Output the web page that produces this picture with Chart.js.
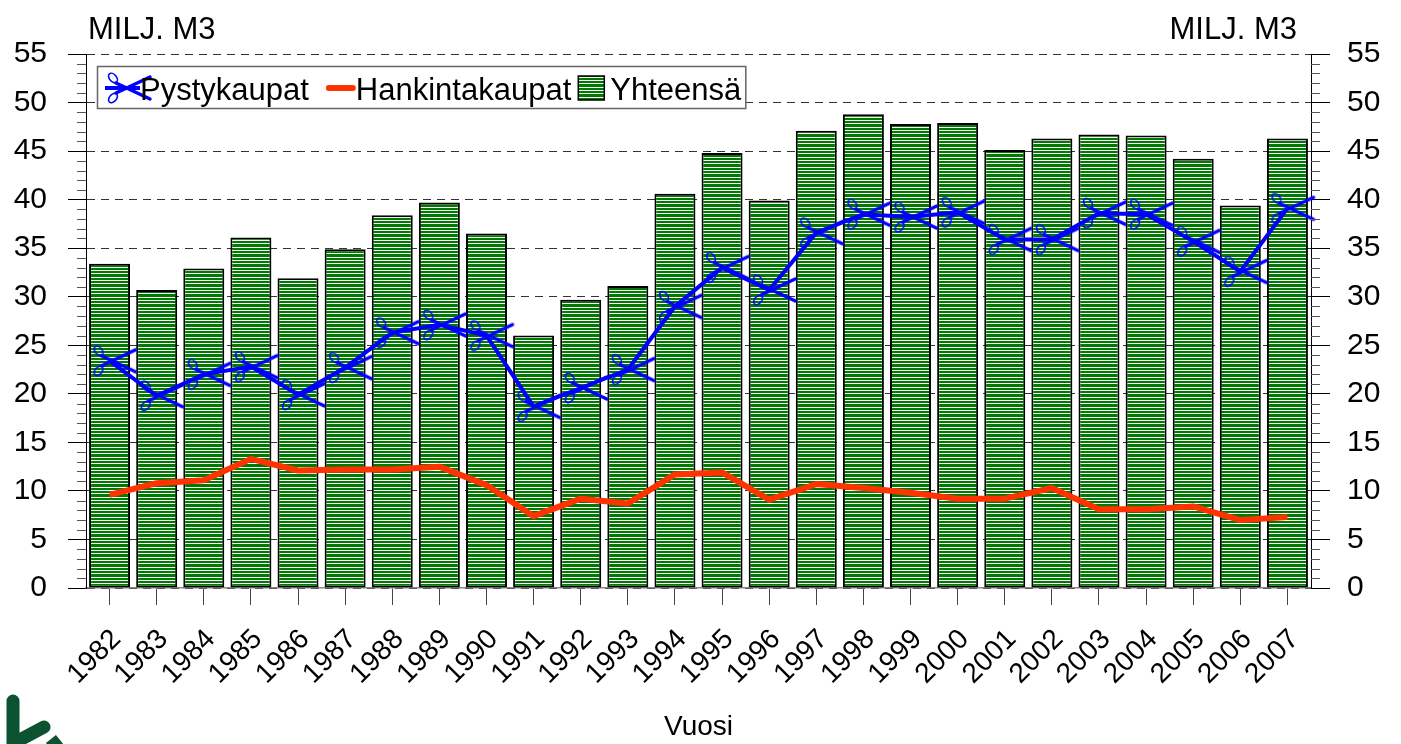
<!DOCTYPE html>
<html>
<head>
<meta charset="utf-8">
<title>Pystykaupat ja hankintakaupat</title>
<script src="https://cdn.jsdelivr.net/npm/chart.js@4.4.0/dist/chart.umd.min.js"></script>
<style>
  html, body { margin: 0; padding: 0; background: #fff; }
  #wrap { width: 1401px; height: 744px; }
</style>
</head>
<body>
<div id="wrap"><canvas id="chart" width="1401" height="744"></canvas></div>
<script>
/* =========================================================
   DATA (milj. m3)
========================================================= */
const years = ["1982","1983","1984","1985","1986","1987","1988","1989","1990","1991","1992","1993","1994",
               "1995","1996","1997","1998","1999","2000","2001","2002","2003","2004","2005","2006","2007"];

const pystykaupat = [23.4, 19.8, 22.0, 22.8, 19.9, 22.7, 26.3, 27.1, 26.0, 18.7, 20.6, 22.5, 29.0,
                     33.0, 30.7, 36.6, 38.5, 38.2, 38.7, 35.9, 35.9, 38.6, 38.5, 35.7, 32.6, 39.1];

const hankintakaupat = [9.6, 10.8, 11.1, 13.3, 12.1, 12.2, 12.2, 12.5, 10.6, 7.4, 9.2, 8.7, 11.7,
                        11.9, 9.1, 10.7, 10.3, 9.8, 9.2, 9.2, 10.3, 8.1, 8.1, 8.4, 7.0, 7.3];

const yhteensa = [33.4, 30.7, 32.9, 36.1, 31.9, 34.9, 38.4, 39.7, 36.5, 26.0, 29.7, 31.1, 40.6,
                  44.8, 39.9, 47.1, 48.8, 47.8, 47.9, 45.1, 46.3, 46.7, 46.6, 44.2, 39.4, 46.3];

const yMin = 0, yMax = 55, yStep = 5;
const unitLabel = "MILJ. M3";
const xTitle = "Vuosi";

const FONT = "'Liberation Sans', Arial, sans-serif";
Chart.defaults.font.family = FONT;
Chart.defaults.color = "#000";

/* =========================================================
   FILLS / MARKERS
========================================================= */
function makeStripes() {
    // green with a thin white line roughly every 3.3 px
    const c = document.createElement("canvas");
    c.width = 4; c.height = 10;
    const g = c.getContext("2d");
    g.fillStyle = "#007a00";
    g.fillRect(0, 0, 4, 10);
    g.fillStyle = "#fff";
    [0, 3, 7].forEach(r => g.fillRect(0, r, 4, 1));
    return g.createPattern(c, "repeat");
}

function makeScissors() {
    const c = document.createElement("canvas");
    c.width = 70; c.height = 40;
    const g = c.getContext("2d");
    const cx = 35, cy = 20;
    g.strokeStyle = "#0000ff";
    g.lineCap = "round";
    g.lineWidth = 3.5;
    g.beginPath();
    g.moveTo(cx - 8, cy - 5); g.lineTo(cx + 26, cy + 11);
    g.moveTo(cx - 8, cy + 5); g.lineTo(cx + 26, cy - 11);
    g.stroke();
    g.lineWidth = 1.6;
    g.beginPath(); g.ellipse(cx - 11, cy - 10, 3.5, 5.5, -0.7, 0, Math.PI * 2); g.stroke();
    g.beginPath(); g.ellipse(cx - 11, cy + 10, 3.5, 5.5, 0.7, 0, Math.PI * 2); g.stroke();
    return c;
}

const stripes = makeStripes();
const scissors = makeScissors();

/* =========================================================
   PLUGINS: minor ticks, unit labels, legend, logo
========================================================= */
const extras = {
    id: "extras",
    afterDraw(chart) {
        const { ctx, chartArea: a, scales } = chart;
        ctx.save();

        // minor ticks on both y axes
        ctx.strokeStyle = "#555";
        ctx.lineWidth = 1;
        ctx.beginPath();
        for (let v = yMin; v <= yMax; v++) {
            if (v % yStep === 0) continue;
            const y = Math.round(scales.y.getPixelForValue(v)) + 0.5;
            ctx.moveTo(a.left - 9, y); ctx.lineTo(a.left, y);
            ctx.moveTo(a.right, y); ctx.lineTo(a.right + 9, y);
        }
        ctx.stroke();

        // unit labels
        ctx.fillStyle = "#000";
        ctx.font = "31px " + FONT;
        ctx.textBaseline = "alphabetic";
        ctx.textAlign = "left";
        ctx.fillText(unitLabel, 88, 39);
        ctx.textAlign = "right";
        ctx.fillText(unitLabel, 1297, 39);

        // legend
        const ds = chart.data.datasets;
        const lx = 97, ly = 66, lh = 42, cy = 88, base = 100;
        ctx.font = "31px " + FONT;
        ctx.textAlign = "left";
        let x = 140;
        const w1 = ctx.measureText(ds[0].label).width;
        const w2 = ctx.measureText(ds[1].label).width;
        const w3 = ctx.measureText(ds[2].label).width;

        // box
        const boxRight = x + w1 + 17 + 30 + w2 + 7 + 32 + w3 + 4;
        ctx.fillStyle = "#fff";
        ctx.fillRect(lx, ly, boxRight - lx, lh);
        ctx.strokeStyle = "#666";
        ctx.lineWidth = 1.5;
        ctx.strokeRect(lx + 0.5, ly + 0.5, boxRight - lx, lh);

        // item 1
        ctx.strokeStyle = "#0000ff";
        ctx.lineWidth = 4;
        ctx.beginPath(); ctx.moveTo(105, cy); ctx.lineTo(140, cy); ctx.stroke();
        ctx.drawImage(scissors, 124 - 35, cy - 20);
        ctx.fillStyle = "#000";
        ctx.fillText(ds[0].label, x, base);
        x += w1 + 17;

        // item 2
        ctx.strokeStyle = "#ff3300";
        ctx.lineWidth = 6;
        ctx.lineCap = "round";
        ctx.beginPath(); ctx.moveTo(x + 3, cy); ctx.lineTo(x + 27, cy); ctx.stroke();
        x += 30;
        ctx.fillText(ds[1].label, x, base);
        x += w2 + 7;

        // item 3
        ctx.fillStyle = stripes;
        ctx.fillRect(x, 76, 26, 24);
        ctx.strokeStyle = "#000";
        ctx.lineWidth = 1.5;
        ctx.strokeRect(x, 76, 26, 24);
        x += 32;
        ctx.fillStyle = "#000";
        ctx.fillText(ds[2].label, x, base);

        // logo fragment, bottom left
        ctx.strokeStyle = "#0b5230";
        ctx.lineCap = "round";
        ctx.lineWidth = 13;
        ctx.beginPath();
        ctx.moveTo(13, 701); ctx.lineTo(13, 752);
        ctx.moveTo(14, 743); ctx.lineTo(44, 727);
        ctx.stroke();
        ctx.lineCap = "butt";
        ctx.beginPath();
        ctx.moveTo(50, 748); ctx.lineTo(60, 740);
        ctx.stroke();

        ctx.restore();
    }
};

/* =========================================================
   CHART
========================================================= */
new Chart(document.getElementById("chart"), {
    type: "bar",
    data: {
        labels: years,
        datasets: [
            {
                type: "line",
                label: "Pystykaupat",
                data: pystykaupat,
                borderColor: "#0000ff",
                borderWidth: 4,
                tension: 0,
                pointStyle: scissors,
                pointRadius: 3,
                clip: false,
                order: 1
            },
            {
                type: "line",
                label: "Hankintakaupat",
                data: hankintakaupat,
                borderColor: "#ff3300",
                borderWidth: 6,
                borderJoinStyle: "round",
                tension: 0,
                pointRadius: 0,
                order: 2
            },
            {
                label: "Yhteensä",
                data: yhteensa,
                backgroundColor: stripes,
                borderColor: "#000",
                borderWidth: 2,
                borderSkipped: false,
                barPercentage: 0.87,
                categoryPercentage: 1,
                order: 3
            }
        ]
    },
    options: {
        responsive: false,
        animation: false,
        layout: { padding: { top: 54, left: 0, right: 0, bottom: 0 } },
        plugins: {
            legend: { display: false },
            tooltip: { enabled: false }
        },
        scales: {
            x: {
                offset: true,
                grid: {
                    display: true,
                    drawOnChartArea: false,
                    offset: false,
                    tickLength: 17,
                    color: "#444"
                },
                border: { display: true, color: "#888", width: 1.5 },
                ticks: {
                    autoSkip: false,
                    minRotation: 45,
                    maxRotation: 45,
                    padding: 18,
                    labelOffset: 7,
                    font: { size: 28 }
                },
                title: {
                    display: true,
                    text: xTitle,
                    font: { size: 28 },
                    padding: { top: 0, bottom: 0 }
                },
                afterFit: s => { s.height = 156; }
            },
            y: {
                position: "left",
                min: yMin,
                max: yMax,
                grid: {
                    color: "#333",
                    tickBorderDash: [],
                    tickColor: "#000",
                    tickLength: 18
                },
                border: { display: true, color: "#000", width: 1, dash: [8, 6] },
                ticks: { stepSize: yStep, padding: 21, font: { size: 30 } },
                afterFit: s => { s.width = 86; }
            },
            y2: {
                position: "right",
                min: yMin,
                max: yMax,
                grid: {
                    drawOnChartArea: false,
                    tickColor: "#000",
                    tickLength: 19
                },
                border: { display: true, color: "#000", width: 1 },
                ticks: { stepSize: yStep, padding: 17, font: { size: 30 } },
                afterFit: s => { s.width = 90; }
            }
        }
    },
    plugins: [extras]
});
</script>
</body>
</html>
